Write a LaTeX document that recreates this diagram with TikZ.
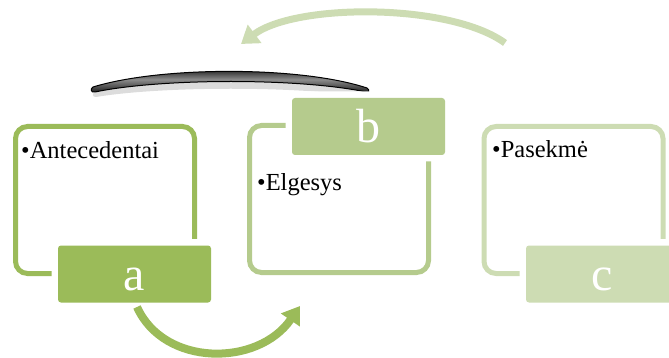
\documentclass[tikz,border=0pt]{standalone}
\usepackage{fontspec}
\setmainfont{Liberation Serif}
\usetikzlibrary{arrows.meta}
\definecolor{greenA}{HTML}{9BBB59}
\definecolor{greenB}{HTML}{B5CB8D}
\definecolor{greenC}{HTML}{CDDCB3}
\tikzset{
  frame/.style={draw=#1, line width=5pt, rounded corners=12pt,
    minimum width=179pt, minimum height=147pt, inner sep=0pt},
  tag/.style={fill=#1, rounded corners=3pt, minimum width=153pt,
    minimum height=57pt, inner sep=0pt, text=white,
    text height=33pt, text depth=0pt,
    font=\fontsize{48}{48}\selectfont,
    preaction={draw=white, line width=13pt}},
  item/.style={anchor=base west, inner sep=0pt, text=black,
    font=\fontsize{24.5}{24.5}\selectfont},
  flow/.style={draw=#1, line width=8pt,
    -{Triangle[length=17pt, width=22pt, fill=#1]}},
}
\begin{document}
\begin{tikzpicture}[x=1pt, y=-1pt]
\useasboundingbox (0,0) rectangle (669,358);
\clip (0,0) rectangle (669,358);

% dark curved bar above the first two boxes, with a soft shadow
\fill[black!30, opacity=0.45] (95,91) .. controls (162,72) and (300,72) .. (366,94)
  .. controls (369,97) and (367,98) .. (364,97)
  .. controls (300,86) and (162,86) .. (96,97)
  .. controls (92,97) and (92,94) .. cycle;
\shade[top color=black, bottom color=black!90, middle color=black!45,
  draw=black, line width=1pt]
  (93,87) .. controls (162,66) and (300,66) .. (367,88)
  .. controls (370,90) and (369,93) .. (366,92)
  .. controls (300,78) and (162,78) .. (95,92)
  .. controls (91,93) and (90,89) .. cycle;

% frames
\node[frame=greenA] (fa) at (105,200) {};
\node[frame=greenB] (fb) at (339,199) {};
\node[frame=greenC] (fc) at (573.5,200) {};

% tags
\node[tag=greenA] (la) at (134.5,274) {a};
\node[tag=greenB] (lb) at (368.5,126.5) {b};
\node[tag=greenC] (lc) at (602.5,274) {c};

% bullet items
\node[item] (ia) at (21,159) {\textbullet Antecedentai};
\node[item] (ib) at (257,190) {\textbullet Elgesys};
\node[item] (ic) at (492,158) {\textbullet Pasekmė};

% connectors
\coordinate (ra) at (137,307);
\coordinate (rb) at (300,306);
\coordinate (rc) at (505,43);
\coordinate (rd) at (241,44);
\draw[flow=greenA] (ra) .. controls (164,367) and (258,367) .. (rb);
\draw[flow=greenC, line width=7pt] (rc) .. controls (450,3) and (296,3) .. (rd);
\end{tikzpicture}
\end{document}
